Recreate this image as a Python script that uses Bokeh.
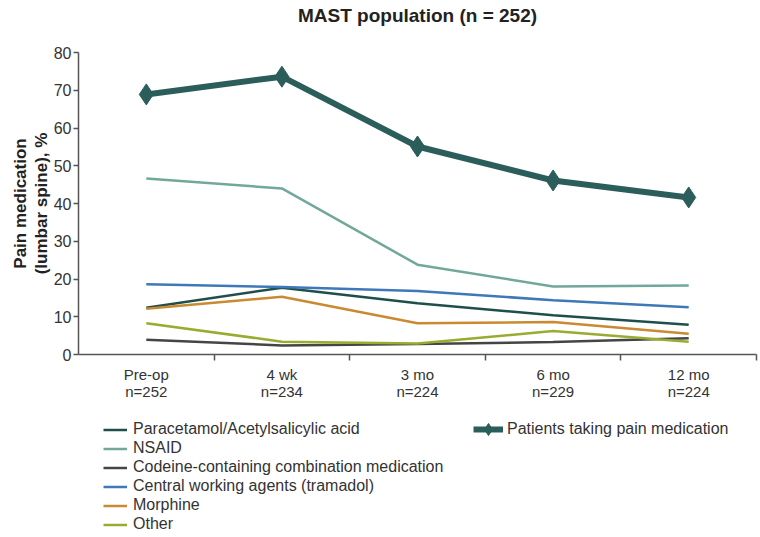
from bokeh.plotting import figure
from bokeh.models import FixedTicker, Legend, LegendItem, Range1d, Label
from bokeh.layouts import column
from bokeh.embed import file_html
from bokeh.resources import INLINE

title_text = "MAST population (n = 252)"
categories = ["Pre-op", "4 wk", "3 mo", "6 mo", "12 mo"]
n_values = [252, 234, 224, 229, 224]

patients = [68.9, 73.6, 55.1, 46.1, 41.6]
paracetamol = [12.4, 17.7, 13.6, 10.4, 7.9]
nsaid = [46.6, 44.0, 23.8, 18.0, 18.3]
codeine = [3.9, 2.4, 2.8, 3.3, 4.3]
tramadol = [18.6, 17.9, 16.8, 14.4, 12.5]
morphine = [12.1, 15.3, 8.3, 8.6, 5.5]
other = [8.3, 3.4, 2.9, 6.2, 3.4]

y_ticks = [0, 10, 20, 30, 40, 50, 60, 70, 80]

FONT = "Liberation Sans"
W = 758

x_pos = [i + 0.5 for i in range(len(categories))]
labels = {x: f"{c}\nn={n}" for x, c, n in zip(x_pos, categories, n_values)}

x_range = Range1d(0, len(categories))

# ---- title strip ----
t = figure(width=W, height=30, output_backend="svg", toolbar_location=None,
           x_range=x_range, y_range=Range1d(0, 1),
           x_axis_location=None, y_axis_location=None,
           min_border_left=78, min_border_right=2, min_border_top=0, min_border_bottom=0)
t.grid.visible = False
t.outline_line_color = None
t.add_layout(Label(x=len(categories) / 2, y=0.5, text=title_text,
                   text_align="center", text_baseline="middle",
                   text_font=FONT, text_font_size="19px", text_font_style="bold",
                   text_color="#222222"))

# ---- main chart ----
p = figure(width=W, height=378, output_backend="svg", toolbar_location=None,
           x_range=x_range, y_range=Range1d(0, 80),
           min_border_left=78, min_border_right=2, min_border_top=22,
           min_border_bottom=54)
p.grid.visible = False
p.outline_line_color = None

axis_color = "#555555"
ya = p.yaxis[0]
ya.ticker = FixedTicker(ticks=y_ticks, minor_ticks=[])
ya.axis_line_color = axis_color
ya.axis_line_width = 1.5
ya.major_tick_line_color = axis_color
ya.major_tick_line_width = 1.5
ya.major_tick_out = 5
ya.major_tick_in = 0
ya.major_label_text_font = FONT
ya.major_label_text_font_size = "16px"
ya.major_label_text_color = "#333333"
ya.major_label_standoff = 2
ya.axis_label = "Pain medication\n(lumbar spine), %"
ya.axis_label_text_font = FONT
ya.axis_label_text_font_size = "17px"
ya.axis_label_text_font_style = "bold"
ya.axis_label_text_color = "#222222"
ya.axis_label_text_line_height = 1.1
ya.axis_label_standoff = 0

xa = p.xaxis[0]
xa.ticker = FixedTicker(ticks=x_pos, minor_ticks=list(range(1, len(categories) + 1)))
xa.major_label_overrides = labels
xa.axis_line_color = axis_color
xa.axis_line_width = 1.5
xa.major_tick_line_color = None
xa.major_tick_out = 0
xa.major_tick_in = 0
xa.minor_tick_line_color = axis_color
xa.minor_tick_line_width = 1.5
xa.minor_tick_out = 6
xa.minor_tick_in = 0
xa.major_label_text_font = FONT
xa.major_label_text_font_size = "15px"
xa.major_label_text_color = "#333333"
xa.major_label_text_line_height = 1.05
xa.major_label_standoff = 5

series = [
    ("Paracetamol/Acetylsalicylic acid", paracetamol, "#1f4f4b"),
    ("NSAID", nsaid, "#72a89b"),
    ("Codeine-containing combination medication", codeine, "#454545"),
    ("Central working agents (tramadol)", tramadol, "#3f78b8"),
    ("Morphine", morphine, "#c98a32"),
    ("Other", other, "#9aac2f"),
]
pc = "#2b5e5b"

for name, vals, color in series:
    p.line(x_pos, vals, line_color=color, line_width=2.5)
p.line(x_pos, patients, line_color=pc, line_width=6)
p.scatter(x_pos, patients, marker="diamond", size=21, fill_color=pc, line_color=pc)

# ---- legend strip (its ranges exclude the data, so only the legend shows) ----
QH = 127
q = figure(width=W, height=QH, output_backend="svg", toolbar_location=None,
           x_range=Range1d(-20, -10), y_range=Range1d(-20, -10),
           x_axis_location=None, y_axis_location=None,
           min_border_left=78, min_border_right=2, min_border_top=0, min_border_bottom=0)
q.grid.visible = False
q.outline_line_color = None

items = []
for name, vals, color in series:
    r = q.line(x_pos, vals, line_color=color, line_width=2.5)
    items.append(LegendItem(label=name, renderers=[r]))
ql = q.line(x_pos, patients, line_color=pc, line_width=6)
qm = q.scatter(x_pos, patients, marker="diamond", size=21, fill_color=pc, line_color=pc)


def style_legend(lg, gw, gh, standoff):
    lg.border_line_color = None
    lg.background_fill_alpha = 0
    lg.padding = 0
    lg.margin = 0
    lg.spacing = 1
    lg.glyph_width = gw
    lg.glyph_height = gh
    lg.label_height = 17
    lg.label_standoff = standoff
    lg.label_text_font = FONT
    lg.label_text_font_size = "16px"
    lg.label_text_color = "#333333"
    lg.label_text_baseline = "middle"


lg1 = Legend(items=items, location=(25, 2))
style_legend(lg1, 24, 17, 6)
lg2 = Legend(items=[LegendItem(label="Patients taking pain medication", renderers=[ql, qm])],
             location=(395, 89))
style_legend(lg2, 30, 34, 4)
q.add_layout(lg1, "center")
q.add_layout(lg2, "center")

layout = column(t, p, q)
open("out.html", "w").write(file_html(layout, INLINE))
